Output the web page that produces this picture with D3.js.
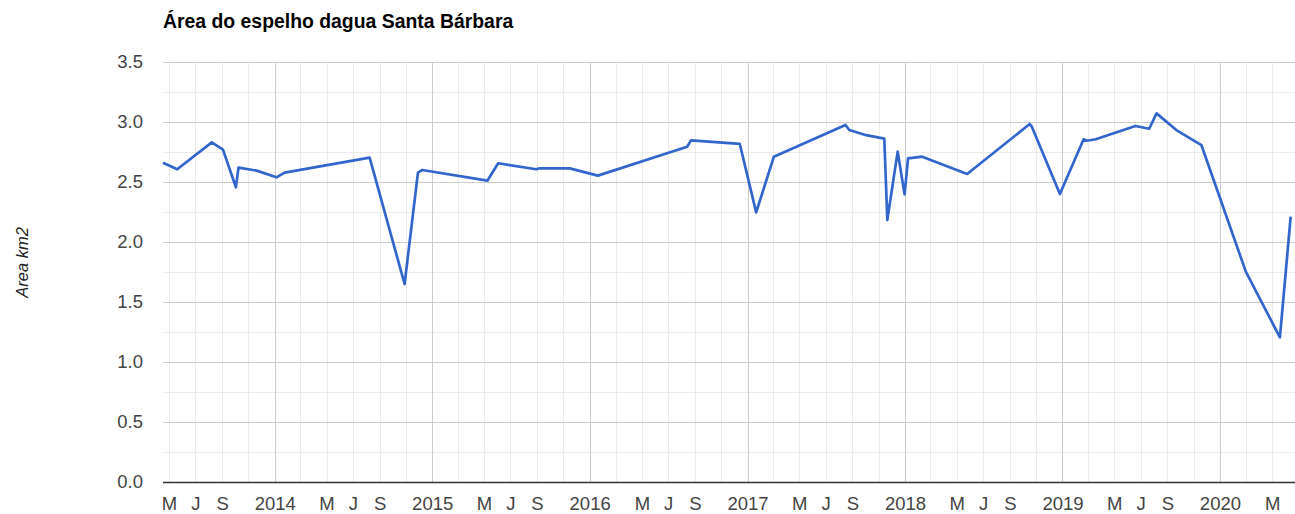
<!DOCTYPE html>
<html><head><meta charset="utf-8">
<script src="https://cdn.jsdelivr.net/npm/d3@7"></script>
<style>
body{margin:0;background:#fff;}
svg{display:block;font-family:"Liberation Sans",Arial,sans-serif;}
</style>
</head><body>
<svg id="c" width="1295" height="514"></svg>
<script>
const chartTitle = "Área do espelho dagua Santa Bárbara";
const yAxisTitle = "Area km2";
const dates = ["2013-04-17","2013-05-20","2013-08-08","2013-09-03","2013-10-03","2013-10-09","2013-11-20",
  "2014-01-05","2014-01-24","2014-08-09","2014-10-29","2014-11-29","2014-12-09",
  "2015-05-09","2015-06-03","2015-08-30","2015-09-07","2015-11-16",
  "2016-01-20","2016-08-14","2016-08-23","2016-12-14",
  "2017-01-21","2017-03-03","2017-08-16","2017-08-25","2017-10-03","2017-11-14","2017-11-21","2017-12-15","2017-12-31",
  "2018-01-08","2018-02-10","2018-05-25","2018-10-17","2018-10-22","2018-12-26",
  "2019-02-19","2019-02-26","2019-03-19","2019-06-19","2019-07-21","2019-08-07","2019-09-22","2019-11-19",
  "2020-03-01","2020-05-19","2020-06-13"];
const areas = [2.66,2.606,2.83,2.77,2.456,2.62,2.595,
  2.539,2.578,2.703,1.65,2.578,2.60,
  2.511,2.656,2.606,2.614,2.614,
  2.553,2.794,2.847,2.817,
  2.247,2.711,2.975,2.933,2.89,2.861,2.183,2.753,2.397,
  2.697,2.711,2.567,2.983,2.961,2.40,
  2.856,2.844,2.856,2.967,2.944,3.072,2.933,2.808,
  1.753,1.206,2.211];
const yTicks = [0,0.5,1,1.5,2,2.5,3,3.5];
const yMinorTicks = [0.25,0.75,1.25,1.75,2.25,2.75,3.25];
const monthLetters = ["","","","","M","","J","","S","","",""];
const xDomain = ["2013-04-17","2020-06-23"];

const parse = d3.utcParse("%Y-%m-%d");
const data = dates.map((d,i)=>({date:parse(d), v:areas[i]}));

const L=163, R=1295, T=62, B=482;
const svg = d3.select("#c");
const x = d3.scaleUtc().domain(xDomain.map(parse)).range([L,R]);
const y = d3.scaleLinear().domain([0,3.5]).range([B,T]);

const monthTicks = d3.utcMonth.range(x.domain()[0], x.domain()[1])
  .filter(d=>d.getUTCMonth()%2===0 && x(d)>=L && x(d)<=R);

const grid = svg.append("g");
grid.selectAll(".hm").data(yMinorTicks).join("line")
  .attr("x1",L).attr("x2",R).attr("y1",d=>Math.round(y(d))+0.5).attr("y2",d=>Math.round(y(d))+0.5)
  .attr("stroke","#ebebeb").attr("stroke-width",1);
grid.selectAll(".vm").data(monthTicks.filter(d=>d.getUTCMonth()!==0)).join("line")
  .attr("x1",d=>Math.round(x(d))+0.5).attr("x2",d=>Math.round(x(d))+0.5).attr("y1",T).attr("y2",B)
  .attr("stroke","#ebebeb").attr("stroke-width",1);
grid.selectAll(".hM").data(yTicks.filter(d=>d>0)).join("line")
  .attr("x1",L).attr("x2",R).attr("y1",d=>Math.round(y(d))+0.5).attr("y2",d=>Math.round(y(d))+0.5)
  .attr("stroke","#cccccc").attr("stroke-width",1);
grid.selectAll(".vM").data(monthTicks.filter(d=>d.getUTCMonth()===0)).join("line")
  .attr("x1",d=>Math.round(x(d))+0.5).attr("x2",d=>Math.round(x(d))+0.5).attr("y1",T).attr("y2",B)
  .attr("stroke","#cccccc").attr("stroke-width",1);

svg.append("path").datum(data)
  .attr("fill","none").attr("stroke","#3366cc").attr("stroke-width",2.7)
  .attr("stroke-linejoin","round")
  .attr("d", d3.line().x(d=>x(d.date)).y(d=>y(d.v)));

svg.append("line").attr("x1",L).attr("x2",R).attr("y1",B+0.5).attr("y2",B+0.5)
  .attr("stroke","#333").attr("stroke-width",1.5);

const xAxis = d3.axisBottom(x).tickValues(monthTicks).tickSize(0).tickPadding(15)
  .tickFormat(d=>d.getUTCMonth()===0 ? String(d.getUTCFullYear()) : monthLetters[d.getUTCMonth()]);
const gx = svg.append("g").attr("transform",`translate(0,${B})`).call(xAxis);
gx.select(".domain").remove();
gx.selectAll("text").attr("font-size","18.5px").attr("fill","#444").attr("font-family","'Liberation Sans',Arial,sans-serif");

const yAxis = d3.axisLeft(y).tickValues(yTicks).tickSize(0).tickPadding(20).tickFormat(d3.format(".1f"));
const gy = svg.append("g").attr("transform",`translate(${L},0)`).call(yAxis);
gy.select(".domain").remove();
gy.selectAll("text").attr("font-size","18.5px").attr("fill","#444").attr("font-family","'Liberation Sans',Arial,sans-serif");

svg.append("text").attr("x",L).attr("y",28).attr("font-size","19.4px").attr("font-weight","bold")
  .attr("fill","#000").text(chartTitle);

svg.append("text").attr("transform","translate(28,262.5) rotate(-90)")
  .attr("text-anchor","middle").attr("font-size","16.5px").attr("font-style","italic")
  .attr("fill","#222").text(yAxisTitle);
</script>
</body></html>
